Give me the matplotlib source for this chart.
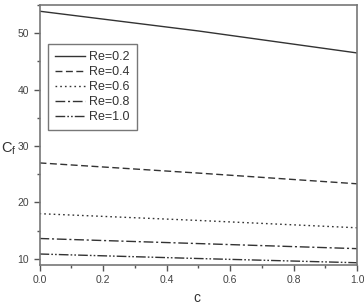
import matplotlib
matplotlib.use("Agg")
import matplotlib.pyplot as plt
from matplotlib.ticker import MultipleLocator

plt.rcParams['font.family'] = ['Liberation Sans', 'DejaVu Sans']

c = [0.0, 0.5, 1.0]
cf_02 = [53.9, 50.4, 46.5]
cf_04 = [27.0, 25.2, 23.3]
cf_06 = [18.0, 16.8, 15.5]
cf_08 = [13.6, 12.7, 11.8]
cf_10 = [10.85, 10.05, 9.3]
labels = ['Re=0.2', 'Re=0.4', 'Re=0.6', 'Re=0.8', 'Re=1.0']
styles = ['-', (0, (5, 2.5)), (0, (1.2, 2.2)), (0, (7, 2, 1.5, 2)), (0, (7, 1.5, 1.2, 1.5, 1.2, 1.5))]

fig = plt.figure(figsize=(3.64, 3.05), dpi=100)
ax = fig.add_axes([39.5 / 364, 40 / 305, 317.5 / 364, 260 / 305])

for y, lab, ls in zip([cf_02, cf_04, cf_06, cf_08, cf_10], labels, styles):
    ax.plot(c, y, color='#333333', lw=1.0, linestyle=ls, label=lab)

ax.set_xlim(0, 1.0)
ax.set_ylim(8.9, 55)
ax.xaxis.set_major_locator(MultipleLocator(0.2))
ax.xaxis.set_minor_locator(MultipleLocator(0.1))
ax.yaxis.set_major_locator(MultipleLocator(10))
ax.yaxis.set_minor_locator(MultipleLocator(5))
ax.tick_params(which='both', direction='out', colors='#555555', labelcolor='#444444', labelsize=7.5)
ax.tick_params(which='major', length=4, width=1.0)
ax.tick_params(which='minor', length=2.5, width=1.0)
for s in ax.spines.values():
    s.set_color('#777777')
    s.set_linewidth(1.2)

# axis labels placed by hand, like the original figure
fig.text(197 / 364, 1 - 298 / 305, 'c', fontsize=10, color='#333333', ha='center', va='center')
fig.text(1 / 364, 1 - 149 / 305, 'C$_\\mathregular{f}$', fontsize=10.5, color='#333333', ha='left', va='center')

leg = ax.legend(loc='upper left', bbox_to_anchor=(8.5 / 317.5, 1 - 39 / 260), fontsize=9, frameon=True,
                fancybox=False, handlelength=2.4, handletextpad=0.35, labelspacing=0.25,
                borderpad=0.55, borderaxespad=0)
leg.get_frame().set_edgecolor('#555555')
leg.get_frame().set_linewidth(1.0)
for t in leg.get_texts():
    t.set_color('#333333')

fig.savefig('out.png', dpi=100)
